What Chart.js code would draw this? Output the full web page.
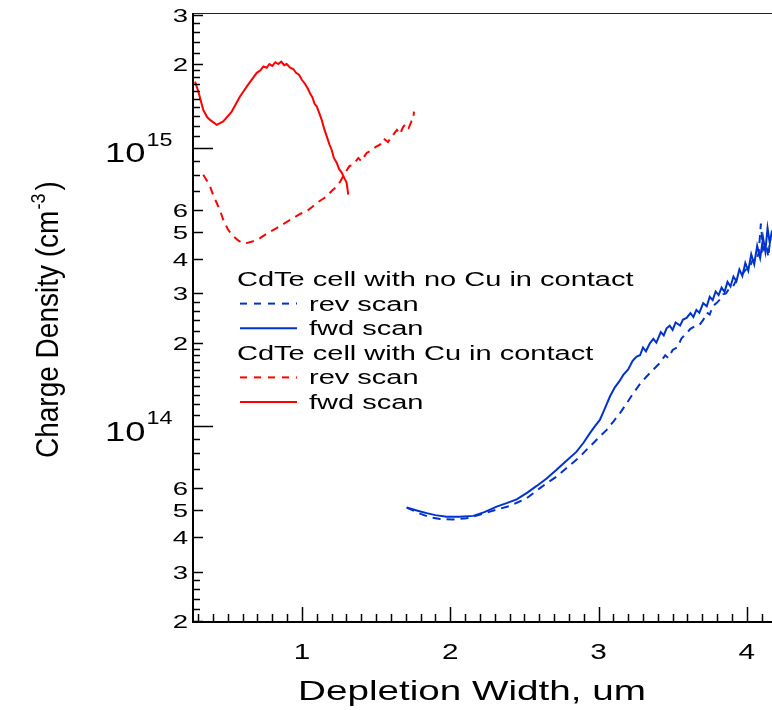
<!DOCTYPE html>
<html>
<head>
<meta charset="utf-8">
<script src="https://cdn.jsdelivr.net/npm/chart.js@4.4.1/dist/chart.umd.min.js"></script>
<style>
  html, body { margin: 0; padding: 0; background: #fff; }
  canvas { display: block; }
</style>
</head>
<body>
<canvas id="cv" width="772" height="710"></canvas>
<script>
const FONT = '"Liberation Sans", Arial, sans-serif';
const BLUE = "rgb(0,51,204)";
const RED = "rgb(255,0,0)";

// CdTe cell with no Cu in contact
const blueRevX = [1.706, 1.80, 1.86, 1.931, 2.02, 2.111, 2.19, 2.268, 2.34, 2.403, 2.46, 2.515, 2.56, 2.605, 2.66, 2.717, 2.80, 2.875, 2.92, 2.964, 3.01, 3.055, 3.10, 3.144, 3.19, 3.234, 3.28, 3.324, 3.37, 3.414, 3.45, 3.47, 3.50, 3.53, 3.56, 3.594, 3.62, 3.65, 3.68, 3.706, 3.73, 3.75, 3.77, 3.796, 3.82, 3.84, 3.86, 3.88, 3.908, 3.93, 3.95, 3.97, 3.99, 4.021, 4.04, 4.06, 4.08, 4.095, 4.11, 4.13, 4.145, 4.155, 4.17];
const blueRevY = [5.11e13, 4.85e13, 4.72e13, 4.65e13, 4.63e13, 4.68e13, 4.80e13, 4.94e13, 5.07e13, 5.18e13, 5.35e13, 5.52e13, 5.75e13, 6.00e13, 6.30e13, 6.60e13, 7.20e13, 7.78e13, 8.25e13, 8.70e13, 9.20e13, 9.71e13, 1.04e14, 1.114e14, 1.21e14, 1.315e14, 1.42e14, 1.51e14, 1.60e14, 1.69e14, 1.80e14, 1.76e14, 1.88e14, 1.92e14, 2.07e14, 2.16e14, 2.24e14, 2.29e14, 2.31e14, 2.41e14, 2.56e14, 2.52e14, 2.70e14, 2.77e14, 2.86e14, 2.98e14, 3.00e14, 3.12e14, 3.18e14, 3.36e14, 3.45e14, 3.52e14, 3.64e14, 3.75e14, 3.96e14, 3.90e14, 4.18e14, 5.35e14, 4.31e14, 4.52e14, 4.05e14, 4.60e14, 4.68e14];
const blueFwdX = [1.706, 1.78, 1.841, 1.90, 1.976, 2.06, 2.155, 2.23, 2.313, 2.38, 2.448, 2.52, 2.583, 2.65, 2.717, 2.78, 2.852, 2.90, 2.942, 2.975, 3.009, 3.04, 3.077, 3.11, 3.14, 3.167, 3.20, 3.23, 3.257, 3.28, 3.30, 3.32, 3.347, 3.37, 3.39, 3.42, 3.44, 3.459, 3.48, 3.50, 3.52, 3.55, 3.57, 3.594, 3.62, 3.64, 3.66, 3.68, 3.706, 3.73, 3.75, 3.77, 3.79, 3.81, 3.83, 3.85, 3.87, 3.89, 3.91, 3.93, 3.95, 3.97, 3.99, 4.01, 4.03, 4.05, 4.07, 4.09, 4.11, 4.125, 4.14, 4.155, 4.17];
const blueFwdY = [5.11e13, 4.98e13, 4.88e13, 4.80e13, 4.74e13, 4.74e13, 4.77e13, 4.92e13, 5.15e13, 5.30e13, 5.47e13, 5.78e13, 6.11e13, 6.50e13, 6.98e13, 7.50e13, 8.11e13, 8.75e13, 9.45e13, 1.00e14, 1.055e14, 1.15e14, 1.28e14, 1.38e14, 1.45e14, 1.53e14, 1.60e14, 1.72e14, 1.78e14, 1.80e14, 1.92e14, 1.86e14, 1.99e14, 2.06e14, 2.00e14, 2.18e14, 2.12e14, 2.25e14, 2.30e14, 2.22e14, 2.36e14, 2.30e14, 2.42e14, 2.45e14, 2.55e14, 2.47e14, 2.62e14, 2.56e14, 2.77e14, 2.70e14, 2.92e14, 2.84e14, 3.05e14, 2.96e14, 3.15e14, 3.04e14, 3.30e14, 3.18e14, 3.45e14, 3.32e14, 3.66e14, 3.47e14, 3.86e14, 3.62e14, 4.15e14, 3.82e14, 4.45e14, 4.02e14, 4.75e14, 4.25e14, 5.15e14, 4.55e14, 5.05e14];

// CdTe cell with Cu in contact
const redRevX = [0.334, 0.36, 0.38, 0.40, 0.425, 0.45, 0.469, 0.50, 0.526, 0.57, 0.60, 0.627, 0.67, 0.717, 0.77, 0.829, 0.88, 0.941, 0.99, 1.032, 1.07, 1.099, 1.14, 1.167, 1.20, 1.234, 1.26, 1.29, 1.32, 1.346, 1.38, 1.40, 1.436, 1.47, 1.50, 1.526, 1.55, 1.58, 1.616, 1.64, 1.66, 1.683, 1.70, 1.72, 1.74, 1.751, 1.755];
const redRevY = [8.01e14, 7.6e14, 7.27e14, 6.8e14, 6.34e14, 5.9e14, 5.52e14, 5.1e14, 4.88e14, 4.65e14, 4.55e14, 4.55e14, 4.62e14, 4.74e14, 4.95e14, 5.15e14, 5.35e14, 5.60e14, 5.80e14, 5.92e14, 6.15e14, 6.34e14, 6.55e14, 6.70e14, 7.0e14, 7.27e14, 7.6e14, 8.12e14, 8.6e14, 8.71e14, 9.2e14, 8.95e14, 9.59e14, 9.8e14, 1.01e15, 1.026e15, 1.08e15, 1.05e15, 1.115e15, 1.16e15, 1.12e15, 1.19e15, 1.22e15, 1.18e15, 1.25e15, 1.26e15, 1.35e15];
const redFwdX = [0.279, 0.30, 0.334, 0.36, 0.38, 0.425, 0.469, 0.526, 0.582, 0.638, 0.695, 0.72, 0.74, 0.762, 0.78, 0.80, 0.82, 0.84, 0.86, 0.88, 0.897, 0.92, 0.941, 0.96, 0.98, 0.998, 1.02, 1.04, 1.054, 1.07, 1.085, 1.099, 1.115, 1.133, 1.15, 1.167, 1.185, 1.20, 1.215, 1.234, 1.25, 1.268, 1.285, 1.301, 1.312];
const redFwdY = [1.73e15, 1.60e15, 1.37e15, 1.29e15, 1.26e15, 1.21e15, 1.245e15, 1.35e15, 1.53e15, 1.69e15, 1.86e15, 1.90e15, 1.96e15, 1.94e15, 2.0e15, 1.97e15, 2.03e15, 2.0e15, 2.04e15, 1.98e15, 2.0e15, 1.94e15, 1.92e15, 1.86e15, 1.83e15, 1.76e15, 1.70e15, 1.63e15, 1.57e15, 1.52e15, 1.44e15, 1.41e15, 1.34e15, 1.26e15, 1.17e15, 1.10e15, 1.03e15, 9.85e14, 9.2e14, 8.85e14, 8.4e14, 8.15e14, 7.8e14, 7.5e14, 6.79e14];

// axes
const X_MIN = 0.265, X_MAX = 4.17;
const Y_MIN = 2e13, Y_MAX = 3e15;
const xMajorTicks = [1, 2, 3, 4];
const xMajorLabels = ["1", "2", "3", "4"];
const yLabelTicks = [2e13, 3e13, 4e13, 5e13, 6e13, 2e14, 3e14, 4e14, 5e14, 6e14, 2e15, 3e15];
const yLabelText = ["2", "3", "4", "5", "6", "2", "3", "4", "5", "6", "2", "3"];
const yDecadeTicks = [1e14, 1e15];
const yDecadeExp = ["14", "15"];

const legendRows = [
  { header: "CdTe cell with no Cu in contact" },
  { label: "rev scan", color: BLUE, dash: [7, 7] },
  { label: "fwd scan", color: BLUE, dash: [] },
  { header: "CdTe cell with Cu in contact" },
  { label: "rev scan", color: RED, dash: [7, 7] },
  { label: "fwd scan", color: RED, dash: [] },
];

function pts(xs, ys) {
  return xs.map((x, i) => ({ x, y: ys[i] }));
}

// draws text stretched horizontally by sx (the original figure is wide)
function drawText(ctx, str, x, y, size, sx, align) {
  ctx.save();
  ctx.font = `${size}px ${FONT}`;
  const w = ctx.measureText(str).width * sx;
  let left = x;
  if (align === "center") left = x - w / 2;
  else if (align === "right") left = x - w;
  ctx.translate(left, y);
  ctx.scale(sx, 1);
  ctx.textAlign = "left";
  ctx.textBaseline = "alphabetic";
  ctx.fillStyle = "#000";
  ctx.fillText(str, 0, 0);
  ctx.restore();
  return w;
}

function tickY(ctx, xs, py, len) {
  ctx.beginPath();
  ctx.moveTo(xs, py);
  ctx.lineTo(xs + len, py);
  ctx.stroke();
}

const framePlugin = {
  id: "frame",
  afterDatasetsDraw(chart) {
    const ctx = chart.ctx;
    const area = chart.chartArea;
    const xs = chart.scales.x;
    const ys = chart.scales.y;
    ctx.save();

    // top frame line
    ctx.strokeStyle = "#222";
    ctx.lineWidth = 1;
    ctx.beginPath();
    ctx.moveTo(area.left - 1, area.top - 1.5);
    ctx.lineTo(area.right, area.top - 1.5);
    ctx.stroke();

    // axis lines
    ctx.strokeStyle = "#000";
    ctx.lineWidth = 2;
    ctx.beginPath();
    ctx.moveTo(area.left, area.top - 2);
    ctx.lineTo(area.left, area.bottom + 1);
    ctx.lineTo(area.right, area.bottom + 1);
    ctx.stroke();

    // x ticks (inside)
    ctx.lineWidth = 1.5;
    for (let i = 3; i <= 41; i++) {
      const v = i / 10;
      const px = Math.round(xs.getPixelForValue(v)) + 0.5;
      const len = i % 10 === 0 ? 14 : 7;
      ctx.beginPath();
      ctx.moveTo(px, area.bottom);
      ctx.lineTo(px, area.bottom - len);
      ctx.stroke();
    }
    xMajorTicks.forEach((v, i) => {
      drawText(ctx, xMajorLabels[i], xs.getPixelForValue(v), 659, 22, 1.35, "center");
    });

    // y ticks (inside)
    const minor = [];
    [1e13, 1e14, 1e15].forEach((d) => {
      [1.1, 1.2, 1.3, 1.4, 1.5, 1.6, 1.7, 1.8, 1.9, 2.2, 2.4, 2.6, 2.8, 7, 8, 9].forEach((m) => {
        const v = m * d;
        if (v > Y_MIN && v < Y_MAX) minor.push(v);
      });
    });
    minor.forEach((v) => tickY(ctx, area.left, Math.round(ys.getPixelForValue(v)) + 0.5, 7));
    yLabelTicks.forEach((v, i) => {
      const py = ys.getPixelForValue(v);
      tickY(ctx, area.left, Math.round(py) + 0.5, 10);
      drawText(ctx, yLabelText[i], 188, py + 7, 19, 1.45, "right");
    });
    yDecadeTicks.forEach((v, i) => {
      const py = ys.getPixelForValue(v);
      tickY(ctx, area.left, Math.round(py) + 0.5, 20);
      const w = drawText(ctx, "10", 105, py + 14.5, 28, 1.3, "left");
      drawText(ctx, yDecadeExp[i], 105 + w + 1, py - 2, 18, 1.3, "left");
    });

    // axis titles
    drawText(ctx, "Depletion Width, um", 472, 700, 28, 1.38, "center");

    ctx.save();
    ctx.translate(58, 458);
    ctx.rotate(-Math.PI / 2);
    ctx.scale(1, 1.12);
    ctx.fillStyle = "#000";
    ctx.textBaseline = "alphabetic";
    ctx.font = `28px ${FONT}`;
    const t1 = "Charge Density (cm";
    ctx.fillText(t1, 0, 0);
    let off = ctx.measureText(t1).width + 1;
    ctx.font = `18px ${FONT}`;
    ctx.fillText("-3", off, -12);
    off += ctx.measureText("-3").width + 3;
    ctx.font = `28px ${FONT}`;
    ctx.fillText(")", off, 0);
    ctx.restore();

    // legend
    let by = 286;
    legendRows.forEach((row) => {
      if (row.header) {
        drawText(ctx, row.header, 237, by, 20, 1.45, "left");
      } else {
        ctx.strokeStyle = row.color;
        ctx.lineWidth = 2;
        ctx.setLineDash(row.dash);
        ctx.beginPath();
        ctx.moveTo(240, by - 7);
        ctx.lineTo(297, by - 7);
        ctx.stroke();
        ctx.setLineDash([]);
        drawText(ctx, row.label, 309, by, 20, 1.45, "left");
      }
      by += 24.6;
    });

    ctx.restore();
  },
};

function lineSet(xs, ys, color, dash) {
  return {
    data: pts(xs, ys),
    borderColor: color,
    borderWidth: 2,
    borderDash: dash,
    pointRadius: 0,
    tension: 0,
    fill: false,
  };
}

new Chart(document.getElementById("cv"), {
  type: "line",
  data: {
    datasets: [
      lineSet(blueRevX, blueRevY, BLUE, [8, 6]),
      lineSet(blueFwdX, blueFwdY, BLUE, []),
      lineSet(redRevX, redRevY, RED, [8, 6]),
      lineSet(redFwdX, redFwdY, RED, []),
    ],
  },
  options: {
    responsive: false,
    animation: false,
    layout: { padding: { left: 193, top: 15, right: 0, bottom: 89 } },
    plugins: { legend: { display: false }, tooltip: { enabled: false } },
    scales: {
      x: { type: "linear", min: X_MIN, max: X_MAX, display: false },
      y: { type: "logarithmic", min: Y_MIN, max: Y_MAX, display: false },
    },
  },
  plugins: [framePlugin],
});
</script>
</body>
</html>
